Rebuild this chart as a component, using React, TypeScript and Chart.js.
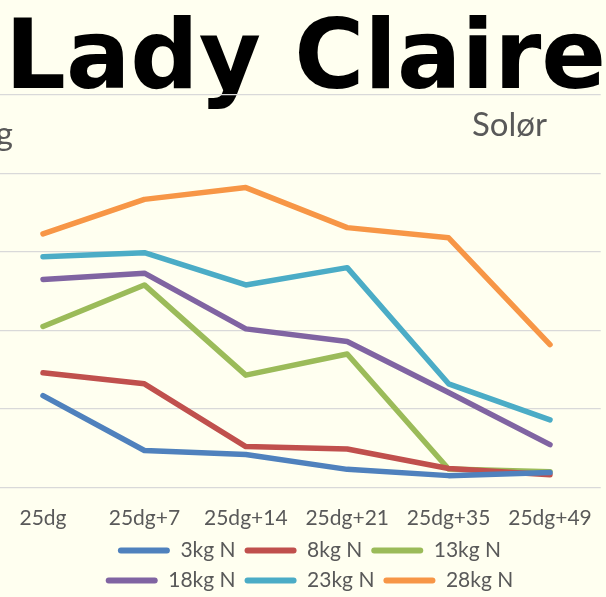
import React, { useEffect, useRef } from "react";
import { Chart, registerables } from "chart.js";

Chart.register(...registerables);

// ---- data ----
const categories = ["25dg", "25dg+7", "25dg+14", "25dg+21", "25dg+35", "25dg+49"];
const seriesNames = ["3kg N", "8kg N", "13kg N", "18kg N", "23kg N", "28kg N"];
const n3 = [11.7, 4.7, 4.2, 2.3, 1.5, 1.9];
const n8 = [14.6, 13.2, 5.2, 4.9, 2.4, 1.6];
const n13 = [20.5, 25.8, 14.3, 17.0, 2.35, 2.0];
const n18 = [26.5, 27.3, 20.2, 18.6, 12.1, 5.45];
const n23 = [29.4, 29.9, 25.8, 28.0, 13.2, 8.6];
const n28 = [32.3, 36.7, 38.2, 33.1, 31.8, 18.2];
const seriesValues = [n3, n8, n13, n18, n23, n28];
const colors = ["#4F81BD", "#C0504D", "#9BBB59", "#8064A2", "#4BACC6", "#F79646"];
const yMin = 0;
const yMax = 50;
const yStep = 10;
const titleText = "Lady Claire";
const subtitleRight = "Solør";
const subtitleLeft = "g";

// ---- layout constants ----
const SHIFT = 40; // canvas is shifted left (chart is cropped on the left)
const CW = 680;
const CH = 601;
const TEXT_GRAY = "#595959";
const FONT = "Lato";
const TITLE_LEFT = 13;
const TITLE_INK_W = 589;
const TITLE_BASE = 87.5;

const titlesPlugin = {
  id: "titlesPlugin",
  beforeDraw(chart: any) {
    const ctx = chart.ctx;
    ctx.save();
    ctx.textBaseline = "alphabetic";
    ctx.textAlign = "left";
    ctx.fillStyle = "#000000";
    ctx.font = "bold 96px 'DejaVu Sans'";
    const m = ctx.measureText(titleText);
    const ink = m.actualBoundingBoxLeft + m.actualBoundingBoxRight;
    const sx = ink > 0 ? TITLE_INK_W / ink : 1;
    ctx.save();
    ctx.translate(TITLE_LEFT + SHIFT, TITLE_BASE);
    ctx.scale(sx, 1);
    ctx.fillText(titleText, m.actualBoundingBoxLeft, 0);
    ctx.restore();

    ctx.fillStyle = TEXT_GRAY;
    ctx.font = `33px ${FONT}`;
    ctx.fillText(subtitleRight, 472 + SHIFT, 136);
    ctx.textAlign = "right";
    ctx.fillText(subtitleLeft, 13 + SHIFT, 145);
    ctx.restore();
  },
};

const legendWrapPlugin = {
  id: "legendWrapPlugin",
  beforeLayout(chart: any) {
    const lg = chart.legend;
    if (lg && !lg.__wrapped) {
      const orig = lg.update;
      lg.update = function (w: number, h: number, m: any) {
        return orig.call(this, Math.min(w, 460), h, m);
      };
      lg.__wrapped = true;
    }
  },
};

export default function App() {
  const ref = useRef<HTMLCanvasElement | null>(null);

  useEffect(() => {
    if (!ref.current) return;
    const chart = new Chart(ref.current, {
      type: "line",
      data: {
        labels: categories,
        datasets: seriesNames.map((name, i) => ({
          label: name,
          data: seriesValues[i],
          borderColor: colors[i],
          backgroundColor: colors[i],
          borderWidth: 5.5,
          pointRadius: 0,
          pointHoverRadius: 0,
          tension: 0,
          borderCapStyle: "round",
          borderJoinStyle: "round",
          fill: false,
          yAxisID: "y",
        })),
      },
      options: {
        responsive: false,
        animation: false,
        devicePixelRatio: 1,
        layout: { padding: { top: 95, left: 32.3, right: 13.3, bottom: 0 } },
        scales: {
          x: {
            type: "category",
            offset: true,
            grid: { display: false, drawTicks: false },
            border: { display: false },
            ticks: {
              color: TEXT_GRAY,
              font: { size: 21, family: FONT },
              padding: 18.4,
              maxRotation: 0,
              autoSkip: false,
            },
            afterFit: (s: any) => {
              s.height = 43.6;
            },
          },
          y: {
            type: "linear",
            position: "left",
            min: yMin,
            max: yMax,
            ticks: { stepSize: yStep, display: false },
            grid: { color: "#D9D9D9", lineWidth: 1.3, drawTicks: false },
            border: { display: false },
            afterFit: (s: any) => {
              s.width = 0;
            },
          },
          yPad: {
            type: "linear",
            position: "right",
            display: true,
            grid: { display: false, drawTicks: false },
            ticks: { display: false },
            border: { display: false },
            afterFit: (s: any) => {
              s.width = 26;
            },
          },
        },
        plugins: {
          tooltip: { enabled: false },
          title: { display: false },
          legend: {
            position: "bottom",
            labels: {
              boxWidth: 52,
              boxHeight: 6,
              padding: 9,
              color: TEXT_GRAY,
              font: { size: 21, family: FONT },
              useBorderRadius: true,
              borderRadius: 3,
              generateLabels: (c: any) =>
                (Chart.defaults.plugins.legend.labels as any)
                  .generateLabels(c)
                  .map((l: any) => ({ ...l, lineWidth: 0 })),
            },
          },
        },
      } as any,
      plugins: [titlesPlugin, legendWrapPlugin],
    });
    return () => chart.destroy();
  }, []);

  return (
    <div
      style={{
        position: "fixed",
        left: 0,
        top: 0,
        width: 606,
        height: 597,
        overflow: "hidden",
        background: "#FFFFF0",
      }}
    >
      <canvas
        ref={ref}
        width={CW}
        height={CH}
        style={{ position: "absolute", left: -SHIFT, top: 0, width: CW, height: CH }}
      />
    </div>
  );
}
